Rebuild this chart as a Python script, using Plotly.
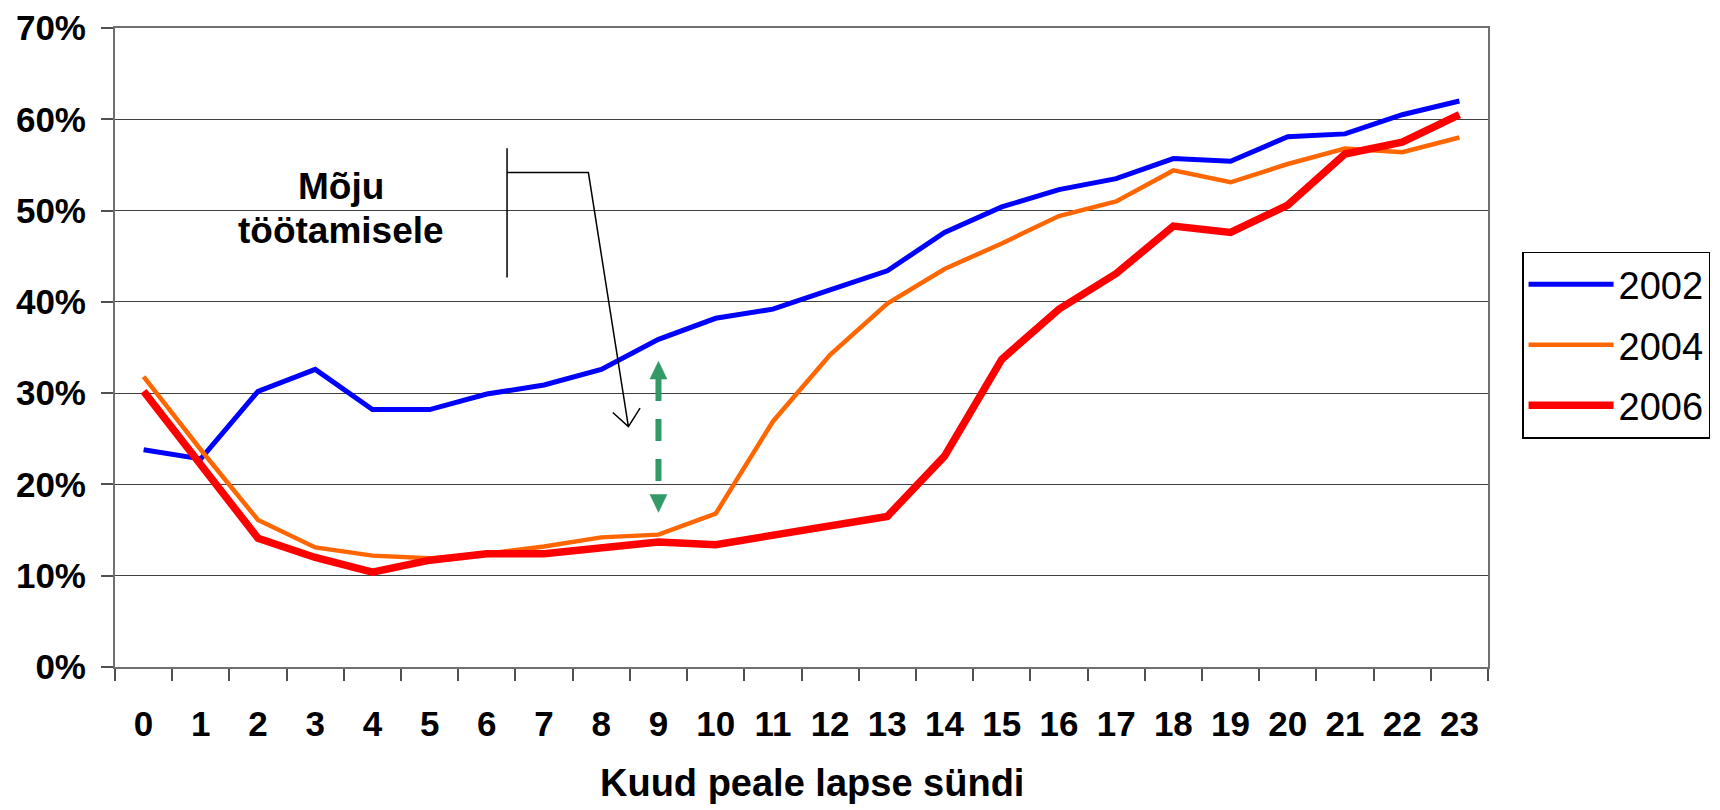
import plotly.graph_objects as go

months = [str(m) for m in range(24)]

y2002 = [23.8, 22.8, 30.2, 32.6, 28.2, 28.2, 29.9, 30.9, 32.6, 35.9, 38.2, 39.2,
         41.3, 43.4, 47.6, 50.4, 52.3, 53.5, 55.7, 55.4, 58.1, 58.4, 60.5, 62.0]
y2004 = [31.8, 23.8, 16.1, 13.1, 12.2, 11.9, 12.4, 13.2, 14.2, 14.5, 16.8, 26.9,
         34.2, 39.8, 43.6, 46.4, 49.4, 51.0, 54.4, 53.1, 55.1, 56.8, 56.4, 58.0]
y2006 = [30.2, 22.2, 14.1, 12.0, 10.4, 11.7, 12.4, 12.4, 13.0, 13.7, 13.4, 14.5,
         15.4, 16.5, 23.1, 33.7, 39.2, 43.1, 48.3, 47.6, 50.6, 56.2, 57.5, 60.5]

series_names = ["2002", "2004", "2006"]
series_colors = ["#0000FF", "#FF6600", "#FF0000"]
series_widths = [5, 4.5, 7.5]

y_tickvals = [0, 10, 20, 30, 40, 50, 60, 70]
y_ticktext = ["0%", "10%", "20%", "30%", "40%", "50%", "60%", "70%"]

FONT = "Liberation Sans, Arial, Helvetica, sans-serif"

fig = go.Figure()
for name, ys, col, w in zip(series_names, [y2002, y2004, y2006], series_colors, series_widths):
    fig.add_trace(go.Scatter(
        x=months, y=ys, mode="lines", name=name, legendgroup=name,
        line=dict(color=col, width=w),
    ))

# Callout: bracket + arrow "Mõju töötamisele"
fig.add_shape(type="path",
              path="M 6.353,42.67 L 6.353,56.83 M 6.353,54.16 L 7.775,54.16 L 8.474,26.34 "
                   "M 8.201,27.88 L 8.474,26.34 L 8.678,28.36",
              xref="x", yref="y", line=dict(color="black", width=1.5))

# Green dashed double arrow
green = "#339966"
fig.add_shape(type="line", xref="x", yref="y", x0=9, x1=9, y0=31.54, y1=18.89,
              line=dict(color=green, width=6, dash="22px,18px"))
fig.add_shape(type="path", xref="x", yref="y",
              path="M 8.851,31.54 L 9.149,31.54 L 9,33.5 Z",
              fillcolor=green, line=dict(color=green, width=0.5))
fig.add_shape(type="path", xref="x", yref="y",
              path="M 8.851,18.89 L 9.149,18.89 L 9,16.95 Z",
              fillcolor=green, line=dict(color=green, width=0.5))

fig.add_annotation(x=3.45, y=52.6, xref="x", yref="y",
                   text="Mõju", showarrow=False,
                   font=dict(family=FONT, size=37, color="black", weight="bold"),
                   xanchor="center", yanchor="middle")
fig.add_annotation(x=3.45, y=47.8, xref="x", yref="y",
                   text="töötamisele", showarrow=False,
                   font=dict(family=FONT, size=37, color="black", weight="bold"),
                   xanchor="center", yanchor="middle")

fig.add_annotation(x=0.508, y=-0.181, xref="paper", yref="paper",
                   text="Kuud peale lapse sündi", showarrow=False,
                   font=dict(family=FONT, size=38, color="black", weight="bold"),
                   xanchor="center", yanchor="middle")

fig.update_layout(
    width=1720, height=810,
    margin=dict(l=115, r=232, t=28, b=143, autoexpand=False),
    paper_bgcolor="white", plot_bgcolor="white",
    font=dict(family=FONT, color="black"),
    showlegend=True,
    legend=dict(
        x=1.0248, y=0.65, xanchor="left", yanchor="top",
        font=dict(family=FONT, size=38, color="black"),
        bordercolor="black", borderwidth=1.5, bgcolor="white",
        tracegroupgap=8, itemwidth=85,
    ),
)

fig.update_xaxes(
    type="category", categoryorder="array", categoryarray=months,
    range=[-0.5, 23.5], automargin=False,
    showgrid=False, showline=True, linecolor="#707070", linewidth=2, mirror=True,
    ticks="outside", tickson="boundaries", ticklen=12, tickcolor="#505050", tickwidth=1.5,
    tickfont=dict(family=FONT, size=35, color="black", weight="bold"),
    ticklabelstandoff=25,
)
fig.update_yaxes(
    range=[0, 70], tickmode="array", tickvals=y_tickvals, ticktext=y_ticktext,
    automargin=False,
    showgrid=True, gridcolor="#404040", gridwidth=1,
    showline=True, linecolor="#707070", linewidth=2, mirror=True,
    ticks="outside", ticklen=12, tickcolor="#505050", tickwidth=1.5,
    tickfont=dict(family=FONT, size=35, color="black", weight="bold"),
    ticklabelstandoff=8, zeroline=False,
)

fig.write_html("out.html", config={"displayModeBar": False},
               post_script="document.body.style.margin='0px';document.body.style.overflow='hidden';")
